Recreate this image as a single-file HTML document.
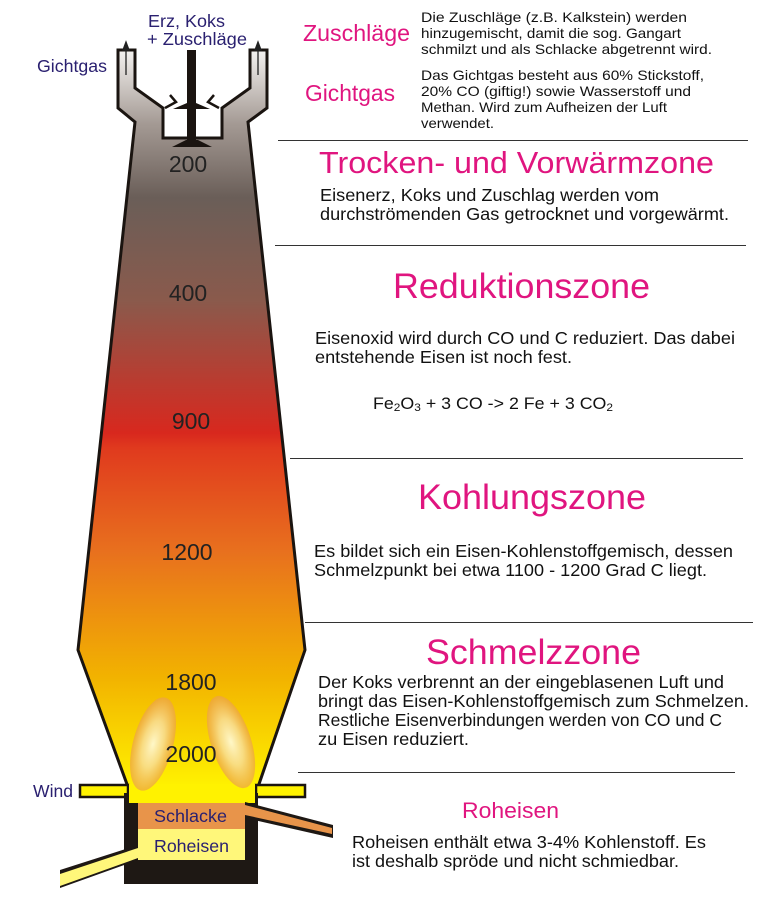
<!DOCTYPE html>
<html><head><meta charset="utf-8"><style>
body{margin:0;background:#fff;width:761px;height:908px;overflow:hidden}
svg{display:block}
text{font-family:"Liberation Sans",sans-serif}
.n{fill:#2a2070;font-size:17.5px}
.h{fill:#e0157f}
.t{fill:#111;font-size:17.5px}
.s{fill:#111;font-size:14px}
.num{fill:#222;font-size:23px;text-anchor:middle}
</style></head><body>
<svg width="761" height="908" viewBox="0 0 761 908">
<defs>
<linearGradient id="g" x1="0" y1="50" x2="0" y2="787" gradientUnits="userSpaceOnUse">
<stop offset="0" stop-color="#f4f2f0"/>
<stop offset="0.1" stop-color="#a49a94"/>
<stop offset="0.2" stop-color="#6a5e58"/>
<stop offset="0.34" stop-color="#8a5a4c"/>
<stop offset="0.52" stop-color="#d8281e"/>
<stop offset="0.54" stop-color="#e03a1e"/>
<stop offset="0.68" stop-color="#e8701e"/>
<stop offset="0.85" stop-color="#f2b200"/>
<stop offset="1" stop-color="#fff200"/>
</linearGradient>
<radialGradient id="f" cx="0.5" cy="0.5" r="0.5">
<stop offset="0" stop-color="#fff8c8"/>
<stop offset="0.5" stop-color="#f8dc98" stop-opacity="0.85"/>
<stop offset="1" stop-color="#eca048" stop-opacity="0.7"/>
</radialGradient>
</defs>
<path d="M118,50 L135,50 L135,88 L163,108 L163,138 L222,138 L222,108 L250,88 L250,50 L267,50 L267,108 L248,122 L305,650 L258,787 L128,787 L78,650 L135,122 L118,108 Z" fill="url(#g)" stroke="#1a1410" stroke-width="3" stroke-linejoin="miter"/>
<g stroke="#222" stroke-width="1.3" fill="#222">
<line x1="126" y1="75" x2="126" y2="48"/><polygon points="123,50 129,50 126,42"/>
<line x1="258" y1="75" x2="258" y2="48"/><polygon points="255,50 261,50 258,42"/>
</g>
<rect x="187" y="50" width="9" height="90" fill="#1a1410"/>
<polygon points="173,109 210,109 196,103 187,103" fill="#1a1410"/>
<polygon points="172,147 212,147 198,140 186,140" fill="#1a1410"/>
<path d="M170,95 L176,102 L165,108 M214,95 L208,102 L219,108" stroke="#1a1410" stroke-width="2.5" fill="none"/>
<text class="num" x="188" y="172">200</text>
<text class="num" x="188" y="301">400</text>
<text class="num" x="191" y="429">900</text>
<text class="num" x="187" y="560">1200</text>
<text class="num" x="191" y="690">1800</text>
<rect x="80" y="785" width="48" height="12" fill="#fff200" stroke="#1a1410" stroke-width="2.5"/>
<rect x="256" y="785" width="49" height="12" fill="#fff200" stroke="#1a1410" stroke-width="2.5"/>
<rect x="124" y="793" width="134" height="91" fill="#1e1814"/>
<rect x="129" y="784" width="126" height="19" fill="#fff200"/>
<rect x="138" y="803" width="107" height="26" fill="#e8944a"/>
<rect x="138" y="829" width="107" height="31" fill="#fff77a"/>
<ellipse cx="153" cy="744" rx="20" ry="48" transform="rotate(15 153 744)" fill="url(#f)"/>
<ellipse cx="231" cy="742" rx="20" ry="48" transform="rotate(-18 231 742)" fill="url(#f)"/>
<text class="num" x="191" y="762">2000</text>
<polygon points="245,802 333,825 333,838 245,818" fill="#1e1814"/>
<polygon points="245,805 332,828 332,834 245,815" fill="#e8944a"/>
<polygon points="138,845 60,870 60,888 138,860" fill="#1e1814"/>
<polygon points="138,848 60,874 60,886 138,858" fill="#fff77a"/>
<text class="n" x="154" y="822" textLength="73" lengthAdjust="spacingAndGlyphs">Schlacke</text>
<text class="n" x="154" y="852" textLength="75" lengthAdjust="spacingAndGlyphs">Roheisen</text>
<text class="n" x="37" y="72" textLength="70" lengthAdjust="spacingAndGlyphs">Gichtgas</text>
<text class="n" x="148" y="27" textLength="77" lengthAdjust="spacingAndGlyphs">Erz, Koks</text>
<text class="n" x="147" y="45" textLength="100" lengthAdjust="spacingAndGlyphs">+ Zuschläge</text>
<text class="n" x="33" y="797" textLength="40" lengthAdjust="spacingAndGlyphs">Wind</text>
<g stroke="#333" stroke-width="1">
<line x1="278" y1="140.5" x2="748" y2="140.5"/>
<line x1="275" y1="245.5" x2="746" y2="245.5"/>
<line x1="290" y1="458.5" x2="743" y2="458.5"/>
<line x1="305" y1="622.5" x2="753" y2="622.5"/>
<line x1="298" y1="772.5" x2="735" y2="772.5"/>
</g>
<text class="h" x="303" y="41" style="font-size:23px" textLength="107" lengthAdjust="spacingAndGlyphs">Zuschläge</text>
<text class="s" x="421" y="22" textLength="266" lengthAdjust="spacingAndGlyphs">Die Zuschläge (z.B. Kalkstein) werden</text>
<text class="s" x="421" y="38" textLength="260" lengthAdjust="spacingAndGlyphs">hinzugemischt, damit die sog. Gangart</text>
<text class="s" x="421" y="54" textLength="291" lengthAdjust="spacingAndGlyphs">schmilzt und als Schlacke abgetrennt wird.</text>
<text class="h" x="305" y="101" style="font-size:23px" textLength="90" lengthAdjust="spacingAndGlyphs">Gichtgas</text>
<text class="s" x="421" y="80" textLength="283" lengthAdjust="spacingAndGlyphs">Das Gichtgas besteht aus 60% Stickstoff,</text>
<text class="s" x="421" y="96" textLength="270" lengthAdjust="spacingAndGlyphs">20% CO (giftig!) sowie Wasserstoff und</text>
<text class="s" x="421" y="112" textLength="246" lengthAdjust="spacingAndGlyphs">Methan. Wird zum Aufheizen der Luft</text>
<text class="s" x="421" y="128" textLength="73" lengthAdjust="spacingAndGlyphs">verwendet.</text>
<text class="h" x="319" y="173" style="font-size:31px" textLength="395" lengthAdjust="spacingAndGlyphs">Trocken- und Vorwärmzone</text>
<text class="t" x="320" y="201" textLength="339" lengthAdjust="spacingAndGlyphs">Eisenerz, Koks und Zuschlag werden vom</text>
<text class="t" x="320" y="220" textLength="409" lengthAdjust="spacingAndGlyphs">durchströmenden Gas getrocknet und vorgewärmt.</text>
<text class="h" x="393" y="298" style="font-size:35px" textLength="257" lengthAdjust="spacingAndGlyphs">Reduktionszone</text>
<text class="t" x="315" y="344" textLength="420" lengthAdjust="spacingAndGlyphs">Eisenoxid wird durch CO und C reduziert. Das dabei</text>
<text class="t" x="315" y="363" textLength="257" lengthAdjust="spacingAndGlyphs">entstehende Eisen ist noch fest.</text>
<text class="t" transform="translate(373,409) scale(1.08,1)" x="0" y="0" style="font-size:16.5px">Fe<tspan style="font-size:11px" dy="2">2</tspan><tspan dy="-2">O</tspan><tspan style="font-size:11px" dy="2">3</tspan><tspan dy="-2"> + 3 CO -&gt; 2 Fe + 3 CO</tspan><tspan style="font-size:11px" dy="2">2</tspan></text>
<text class="h" x="418" y="509" style="font-size:35px" textLength="228" lengthAdjust="spacingAndGlyphs">Kohlungszone</text>
<text class="t" x="314" y="557" textLength="419" lengthAdjust="spacingAndGlyphs">Es bildet sich ein Eisen-Kohlenstoffgemisch, dessen</text>
<text class="t" x="314" y="576" textLength="393" lengthAdjust="spacingAndGlyphs">Schmelzpunkt bei etwa 1100 - 1200 Grad C liegt.</text>
<text class="h" x="426" y="664" style="font-size:35px" textLength="215" lengthAdjust="spacingAndGlyphs">Schmelzzone</text>
<text class="t" x="318" y="688" textLength="406" lengthAdjust="spacingAndGlyphs">Der Koks verbrennt an der eingeblasenen Luft und</text>
<text class="t" x="318" y="707" textLength="431" lengthAdjust="spacingAndGlyphs">bringt das Eisen-Kohlenstoffgemisch zum Schmelzen.</text>
<text class="t" x="318" y="726" textLength="404" lengthAdjust="spacingAndGlyphs">Restliche Eisenverbindungen werden von CO und C</text>
<text class="t" x="318" y="745" textLength="151" lengthAdjust="spacingAndGlyphs">zu Eisen reduziert.</text>
<text class="h" x="462" y="818" style="font-size:22px" textLength="97" lengthAdjust="spacingAndGlyphs">Roheisen</text>
<text class="t" x="352" y="848" textLength="354" lengthAdjust="spacingAndGlyphs">Roheisen enthält etwa 3-4% Kohlenstoff. Es</text>
<text class="t" x="352" y="867" textLength="327" lengthAdjust="spacingAndGlyphs">ist deshalb spröde und nicht schmiedbar.</text>
</svg>
</body></html>
